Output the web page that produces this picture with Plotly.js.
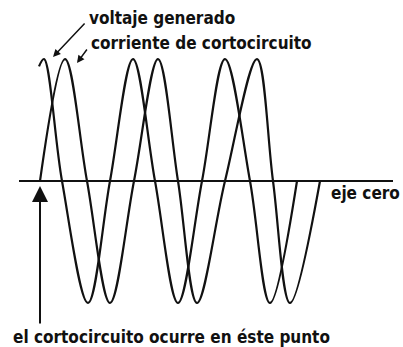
<!DOCTYPE html>
<html>
<head>
<meta charset="utf-8">
<script src="https://cdn.plot.ly/plotly-3.0.1.min.js"></script>
<style>html,body{margin:0;padding:0;background:#fff;}#chart{width:403px;height:347px;}</style>
</head>
<body>
<div id="chart"></div>
<script>
// Voltage (generated) - key points: x in px from short-circuit point, y in amplitude units
const voltX = [-1, 4, 22, 48, 70, 93, 115, 138, 162, 185, 210, 230, 257];
const voltY = [0.94, 1, 0, -1, 0, 1, 0, -1, 0, 1, 0, -1, 0];
// Short-circuit current
const currX = [0, 25, 47, 70, 94, 118, 138, 157, 185, 217, 233, 250, 280];
const currY = [0, 1, 0, -1, 0, 1, 0, -1, 0, 1, 0, -1, 0];

const labelVolt = "voltaje generado";
const labelCurr = "corriente de cortocircuito";
const labelAxis = "eje cero";
const labelPoint = "el cortocircuito ocurre en éste punto";

const W = 403, H = 347;
const px = v => v / W;
const py = v => 1 - v / H;
const FONT = {family: "DejaVu Sans Condensed, DejaVu Sans, sans-serif", size: 17, color: "#111"};

const lineStyle = {color: "#111", width: 2.2, shape: "spline", smoothing: 1};

const data = [
  {x: voltX, y: voltY, type: "scatter", mode: "lines", line: lineStyle, name: labelVolt, hoverinfo: "skip"},
  {x: currX, y: currY, type: "scatter", mode: "lines", line: lineStyle, name: labelCurr, hoverinfo: "skip"}
];

const layout = {
  width: W, height: H,
  margin: {l: 0, r: 0, t: 0, b: 0},
  paper_bgcolor: "#fff", plot_bgcolor: "#fff",
  showlegend: false,
  xaxis: {range: [-40, 363], visible: false, fixedrange: true},
  yaxis: {range: [-1.361, 1.484], visible: false, fixedrange: true},
  shapes: [
    {type: "line", xref: "x", yref: "y", x0: -21, x1: 353, y0: 0, y1: 0, line: {color: "#111", width: 2}}
  ],
  annotations: [
    {text: "<b>" + labelVolt + "</b>", xref: "paper", yref: "paper", x: px(87), y: py(18), xanchor: "left", yanchor: "middle", showarrow: false, font: FONT},
    {text: "<b>" + labelCurr + "</b>", xref: "paper", yref: "paper", x: px(89), y: py(43), xanchor: "left", yanchor: "middle", showarrow: false, font: FONT},
    {text: "<b>" + labelAxis + "</b>", xref: "paper", yref: "paper", x: px(402), y: py(193), xanchor: "right", yanchor: "middle", showarrow: false, font: FONT},
    {text: "<b>" + labelPoint + "</b>", xref: "paper", yref: "paper", x: px(11), y: py(337), xanchor: "left", yanchor: "middle", showarrow: false, font: FONT},
    {text: "", xref: "paper", yref: "paper", x: px(53), y: py(57), ax: 33, ay: -35, showarrow: true, arrowhead: 2, arrowsize: 1, arrowwidth: 1.5, arrowcolor: "#111"},
    {text: "", xref: "paper", yref: "paper", x: px(77), y: py(63), ax: 11, ay: -15, showarrow: true, arrowhead: 2, arrowsize: 1, arrowwidth: 1.5, arrowcolor: "#111"},
    {text: "", xref: "paper", yref: "paper", x: px(40), y: py(186), ax: 0, ay: 139, showarrow: true, arrowhead: 2, arrowsize: 1.6, arrowwidth: 2, arrowcolor: "#111"}
  ]
};

Plotly.newPlot("chart", data, layout, {staticPlot: true, displayModeBar: false});
</script>
</body>
</html>
